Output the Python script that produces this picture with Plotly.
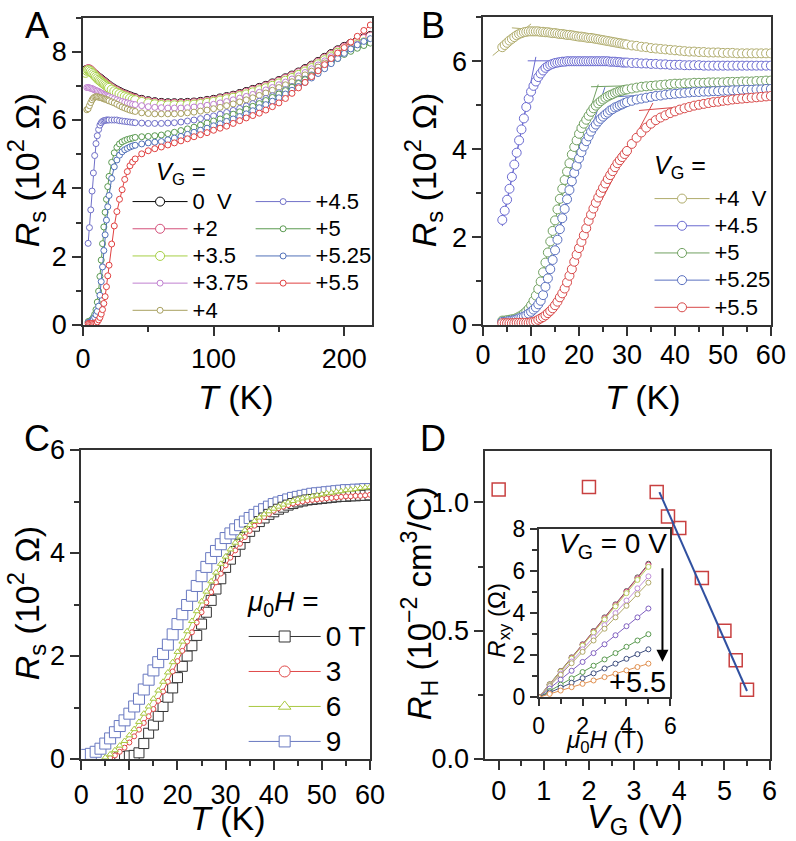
import plotly.graph_objects as go

W, H = 796, 841
# the rendered plot area sits ~8.5 px in from the sides and ~15 px from top/bottom,
# so reference pixel positions are mapped onto paper fractions of that area
ML, MT = 8.5, 15.0
def px(x): return (x - ML) / (W - 2 * ML)
def py(y): return 1 - (y - MT) / (H - 2 * MT)

FONT = "Liberation Sans, Arial, Helvetica, sans-serif"

# ---------------- Panel A : Rs(T), 0-220 K ----------------
T_A = [2, 3, 4, 5, 6, 7, 8, 9, 10, 11, 12, 13, 14, 15, 16, 17, 18, 19, 20,
       22, 24, 26, 28, 30, 32, 34, 36, 38, 40,
       45, 50, 55, 60, 65, 70, 75, 80, 85, 90, 95, 100, 105, 110, 115, 120, 125, 130, 135,
       140, 145, 150, 155, 160, 165, 170, 175, 180, 185, 190, 195, 200, 205, 210, 215, 220]
A_LABELS = ["0&nbsp;&nbsp;V", "+2", "+3.5", "+3.75", "+4", "+4.5", "+5", "+5.25", "+5.5"]
A_COLORS = ["#000000", "#d4507a", "#a6cf45", "#c080d0", "#a8a060", "#7070c8", "#5a9a50", "#5070b8", "#e04040"]
A_SIZES = [9, 9, 9, 6, 6, 6, 6, 6, 6]
R_A_0 = [7.45, 7.46, 7.46, 7.44, 7.42, 7.39, 7.36, 7.33, 7.30, 7.27, 7.24, 7.21, 7.18, 7.15, 7.12, 7.09, 7.06, 7.03, 7.00,
         6.95, 6.90, 6.86, 6.82, 6.78, 6.75, 6.72, 6.69, 6.66, 6.64,
         6.59, 6.55, 6.52, 6.50, 6.49, 6.49, 6.49, 6.50, 6.51, 6.53, 6.56, 6.59, 6.63, 6.67, 6.71, 6.76, 6.82, 6.88, 6.94,
         7.00, 7.07, 7.14, 7.22, 7.30, 7.39, 7.49, 7.59, 7.70, 7.82, 7.93, 8.04, 8.14, 8.23, 8.31, 8.39, 8.46]
R_A_2 = [7.40, 7.46, 7.49, 7.48, 7.45, 7.41, 7.37, 7.33, 7.29, 7.26, 7.22, 7.19, 7.16, 7.13, 7.10, 7.07, 7.04, 7.01, 6.98,
         6.93, 6.88, 6.84, 6.80, 6.76, 6.73, 6.70, 6.67, 6.64, 6.62,
         6.57, 6.53, 6.50, 6.48, 6.47, 6.47, 6.47, 6.48, 6.49, 6.51, 6.54, 6.57, 6.61, 6.65, 6.69, 6.74, 6.80, 6.86, 6.92,
         6.98, 7.05, 7.12, 7.20, 7.28, 7.37, 7.47, 7.57, 7.68, 7.80, 7.91, 8.02, 8.12, 8.21, 8.29, 8.37, 8.44]
R_A_35 = [7.38, 7.44, 7.46, 7.45, 7.42, 7.38, 7.34, 7.30, 7.26, 7.22, 7.18, 7.15, 7.12, 7.09, 7.06, 7.03, 7.00, 6.97, 6.94,
          6.89, 6.84, 6.80, 6.76, 6.72, 6.69, 6.66, 6.63, 6.60, 6.58,
          6.53, 6.49, 6.46, 6.44, 6.43, 6.43, 6.43, 6.44, 6.45, 6.47, 6.50, 6.53, 6.57, 6.61, 6.65, 6.70, 6.75, 6.81, 6.87,
          6.93, 7.00, 7.07, 7.15, 7.23, 7.32, 7.42, 7.52, 7.63, 7.75, 7.86, 7.97, 8.06, 8.14, 8.21, 8.27, 8.32]
R_A_375 = [None, 6.95, 6.95, 6.94, 6.93, 6.92, 6.90, 6.88, 6.86, 6.85, 6.83, 6.81, 6.79, 6.77, 6.75, 6.73, 6.71, 6.69, 6.68,
           6.65, 6.62, 6.59, 6.56, 6.54, 6.52, 6.50, 6.48, 6.46, 6.45,
           6.42, 6.39, 6.37, 6.36, 6.35, 6.35, 6.35, 6.36, 6.38, 6.40, 6.43, 6.46, 6.50, 6.54, 6.59, 6.64, 6.69, 6.75, 6.81,
           6.88, 6.95, 7.03, 7.11, 7.20, 7.29, 7.39, 7.50, 7.61, 7.73, 7.85, 7.96, 8.06, 8.14, 8.22, 8.29, 8.35]
R_A_4 = [None, 6.30, 6.33, 6.42, 6.51, 6.59, 6.64, 6.67, 6.68, 6.68, 6.67, 6.66, 6.65, 6.64, 6.62, 6.61, 6.60, 6.58, 6.56,
         6.53, 6.50, 6.46, 6.42, 6.38, 6.35, 6.32, 6.29, 6.27, 6.25,
         6.21, 6.19, 6.18, 6.18, 6.18, 6.18, 6.19, 6.21, 6.23, 6.26, 6.29, 6.33, 6.37, 6.42, 6.47, 6.53, 6.59, 6.65, 6.72,
         6.79, 6.87, 6.95, 7.03, 7.12, 7.22, 7.32, 7.43, 7.55, 7.67, 7.80, 7.92, 8.02, 8.10, 8.18, 8.24, 8.30]
R_A_45 = [None, None, 2.39, 2.85, 3.37, 3.92, 4.45, 4.96, 5.31, 5.54, 5.72, 5.85, 5.92, 5.96, 5.98, 5.99, 6.00, 6.00, 6.00,
          6.00, 6.00, 6.00, 5.98, 5.97, 5.96, 5.95, 5.94, 5.93, 5.92,
          5.91, 5.90, 5.90, 5.90, 5.91, 5.92, 5.94, 5.97, 6.00, 6.04, 6.08, 6.12, 6.17, 6.22, 6.28, 6.34, 6.41, 6.48, 6.55,
          6.63, 6.71, 6.80, 6.89, 6.98, 7.09, 7.20, 7.32, 7.44, 7.57, 7.70, 7.82, 7.93, 8.03, 8.12, 8.20, 8.28]
R_A_5 = [None, None, 0.10, 0.11, 0.13, 0.16, 0.22, 0.31, 0.45, 0.67, 0.99, 1.42, 1.90, 2.38, 2.87, 3.30, 3.68, 4.05, 4.35,
         4.76, 5.04, 5.20, 5.30, 5.36, 5.40, 5.43, 5.45, 5.47, 5.49,
         5.51, 5.52, 5.54, 5.56, 5.60, 5.64, 5.69, 5.74, 5.79, 5.85, 5.91, 5.97, 6.03, 6.10, 6.17, 6.24, 6.32, 6.40, 6.48,
         6.57, 6.66, 6.76, 6.86, 6.96, 7.07, 7.18, 7.30, 7.42, 7.55, 7.68, 7.80, 7.92, 8.01, 8.10, 8.18, 8.25]
R_A_525 = [None, None, 0.07, 0.08, 0.10, 0.13, 0.17, 0.22, 0.30, 0.40, 0.55, 0.87, 1.27, 1.70, 2.18, 2.64, 3.07, 3.46, 3.79,
           4.29, 4.63, 4.83, 4.97, 5.07, 5.13, 5.17, 5.21, 5.24, 5.26,
           5.30, 5.33, 5.35, 5.37, 5.42, 5.47, 5.52, 5.58, 5.64, 5.70, 5.76, 5.83, 5.89, 5.96, 6.03, 6.10, 6.18, 6.27, 6.36,
           6.45, 6.55, 6.65, 6.76, 6.87, 6.98, 7.10, 7.23, 7.36, 7.50, 7.65, 7.80, 7.95, 8.08, 8.20, 8.30, 8.38]
R_A_55 = [None, None, 0.04, 0.04, 0.04, 0.05, 0.05, 0.05, 0.06, 0.09, 0.15, 0.22, 0.32, 0.45, 0.63, 0.83, 1.12, 1.44, 1.75,
          2.37, 2.90, 3.32, 3.68, 3.96, 4.26, 4.49, 4.66, 4.77, 4.86,
          5.01, 5.10, 5.16, 5.21, 5.27, 5.33, 5.39, 5.45, 5.51, 5.57, 5.63, 5.70, 5.76, 5.82, 5.90, 5.98, 6.06, 6.13, 6.20,
          6.29, 6.39, 6.50, 6.63, 6.78, 6.94, 7.10, 7.27, 7.44, 7.62, 7.80, 7.96, 8.12, 8.28, 8.45, 8.62, 8.78]
A_SERIES = [R_A_0, R_A_2, R_A_35, R_A_375, R_A_4, R_A_45, R_A_5, R_A_525, R_A_55]

# ---------------- Panel B : Rs(T), 0-60 K ----------------
T_B = [4.0, 4.5, 5.0, 5.5, 6.0, 6.5, 7.0, 7.5, 8.0, 8.5,
       9.0, 9.5, 10.0, 10.5, 11.0, 11.5, 12.0, 12.5, 13.0, 13.5,
       14.0, 14.5, 15.0, 15.5, 16.0, 16.5, 17.0, 17.5, 18.0, 18.5,
       19.0, 19.5, 20.0, 20.5, 21.0, 21.5, 22.0, 22.5, 23.0, 23.5,
       24.0, 24.5, 25.0, 25.5, 26.0, 26.5, 27.0, 27.5, 28.0, 28.5,
       29.0, 29.5, 30.0,
       31, 32, 33, 34, 35, 36, 37, 38, 39, 40,
       41, 42, 43, 44, 45, 46, 47, 48, 49, 50,
       51, 52, 53, 54, 55, 56, 57, 58, 59, 60]
B_LABELS = ["+4&nbsp;&nbsp;V", "+4.5", "+5", "+5.25", "+5.5"]
B_COLORS = ["#b0ac6c", "#6a6ad0", "#70a060", "#5a70c0", "#d84848"]
R_B_4 = [6.32, 6.37, 6.42, 6.47, 6.51, 6.55, 6.59, 6.62, 6.64, 6.66,
         6.67, 6.68, 6.68, 6.68, 6.68, 6.68, 6.67, 6.67, 6.66, 6.66,
         6.65, 6.64, 6.64, 6.63, 6.62, 6.62, 6.61, 6.60, 6.60, 6.59,
         6.58, 6.57, 6.56, 6.56, 6.55, 6.54, 6.53, 6.53, 6.52, 6.51,
         6.50, 6.49, 6.48, 6.47, 6.46, 6.45, 6.44, 6.43, 6.42, 6.41,
         6.40, 6.39, 6.38,
         6.36, 6.35, 6.33, 6.32, 6.30, 6.29, 6.28, 6.27, 6.26, 6.25,
         6.24, 6.23, 6.22, 6.22, 6.21, 6.21, 6.20, 6.20, 6.20, 6.19,
         6.19, 6.19, 6.18, 6.18, 6.18, 6.18, 6.18, 6.18, 6.18, 6.18]
R_B_45 = [2.39, 2.60, 2.85, 3.10, 3.37, 3.65, 3.92, 4.20, 4.45, 4.70,
          4.96, 5.15, 5.31, 5.44, 5.54, 5.64, 5.72, 5.79, 5.85, 5.89,
          5.92, 5.94, 5.96, 5.97, 5.98, 5.99, 5.99, 6.00, 6.00, 6.00,
          6.00, 6.00, 6.00, 6.00, 6.00, 6.00, 6.00, 6.00, 6.00, 6.00,
          6.00, 6.00, 6.00, 6.00, 6.00, 5.99, 5.99, 5.99, 5.98, 5.98,
          5.97, 5.97, 5.97,
          5.96, 5.96, 5.95, 5.95, 5.94, 5.94, 5.93, 5.93, 5.92, 5.92,
          5.92, 5.91, 5.91, 5.91, 5.91, 5.90, 5.90, 5.90, 5.90, 5.90,
          5.90, 5.90, 5.90, 5.90, 5.90, 5.90, 5.90, 5.90, 5.90, 5.90]
R_B_5 = [0.10, 0.10, 0.11, 0.12, 0.13, 0.14, 0.16, 0.19, 0.22, 0.26,
         0.31, 0.37, 0.45, 0.55, 0.67, 0.82, 0.99, 1.20, 1.42, 1.65,
         1.90, 2.14, 2.38, 2.63, 2.87, 3.10, 3.30, 3.49, 3.68, 3.88,
         4.05, 4.20, 4.35, 4.48, 4.58, 4.67, 4.76, 4.85, 4.93, 4.99,
         5.04, 5.09, 5.13, 5.17, 5.20, 5.23, 5.25, 5.28, 5.30, 5.32,
         5.33, 5.35, 5.36,
         5.38, 5.40, 5.42, 5.43, 5.44, 5.45, 5.46, 5.47, 5.48, 5.49,
         5.49, 5.50, 5.50, 5.51, 5.51, 5.51, 5.52, 5.52, 5.52, 5.52,
         5.53, 5.53, 5.53, 5.54, 5.54, 5.54, 5.55, 5.55, 5.56, 5.56]
R_B_525 = [0.07, 0.07, 0.08, 0.09, 0.10, 0.11, 0.13, 0.15, 0.17, 0.19,
           0.22, 0.26, 0.30, 0.35, 0.40, 0.47, 0.55, 0.68, 0.87, 1.06,
           1.27, 1.48, 1.70, 1.94, 2.18, 2.43, 2.64, 2.86, 3.07, 3.27,
           3.46, 3.62, 3.79, 3.93, 4.06, 4.18, 4.29, 4.40, 4.49, 4.56,
           4.63, 4.69, 4.74, 4.79, 4.83, 4.88, 4.91, 4.95, 4.97, 5.00,
           5.02, 5.05, 5.07,
           5.10, 5.13, 5.15, 5.17, 5.19, 5.21, 5.22, 5.24, 5.25, 5.26,
           5.27, 5.28, 5.29, 5.30, 5.30, 5.31, 5.31, 5.32, 5.32, 5.33,
           5.33, 5.34, 5.34, 5.35, 5.35, 5.35, 5.36, 5.36, 5.37, 5.37]
R_B_55 = [0.04, 0.04, 0.04, 0.04, 0.04, 0.04, 0.05, 0.05, 0.05, 0.05,
          0.05, 0.05, 0.06, 0.07, 0.09, 0.12, 0.15, 0.18, 0.22, 0.27,
          0.32, 0.38, 0.45, 0.53, 0.63, 0.72, 0.83, 0.97, 1.12, 1.27,
          1.44, 1.60, 1.75, 1.89, 2.04, 2.20, 2.37, 2.51, 2.65, 2.78,
          2.90, 3.01, 3.12, 3.22, 3.32, 3.41, 3.50, 3.59, 3.68, 3.75,
          3.82, 3.89, 3.96,
          4.12, 4.26, 4.38, 4.49, 4.58, 4.66, 4.72, 4.77, 4.82, 4.86,
          4.90, 4.93, 4.96, 4.99, 5.01, 5.03, 5.05, 5.07, 5.08, 5.10,
          5.11, 5.13, 5.14, 5.15, 5.16, 5.17, 5.18, 5.19, 5.20, 5.21]
B_SERIES = [R_B_4, R_B_45, R_B_5, R_B_525, R_B_55]
# tangent construction lines (T pair, R pair), two per curve
FIT_B_T = [[[2.0, 10.0], [6.0, 15.0]],
           [[4.0, 11.0], [9.3, 21.0]],
           [[15.5, 24.0], [22.5, 40.0]],
           [[16.0, 25.4], [24.0, 40.0]],
           [[24.5, 35.4], [32.5, 40.0]]]
FIT_B_R = [[[6.13, 6.85], [6.76, 6.68]],
           [[2.25, 6.10], [6.01, 6.01]],
           [[2.60, 5.47], [5.42, 5.47]],
           [[2.26, 5.41], [5.17, 5.27]],
           [[2.80, 5.05], [4.88, 4.95]]]

# ---------------- Panel C : Rs(T) in field ----------------
T_C = list(range(1, 61))
C_LABELS = ["0 T", "3", "6", "9"]
C_COLORS = ["#333333", "#e04848", "#a8c840", "#6878c0"]
C_SYMBOLS = ["square", "circle", "triangle-up", "square"]
R_C_0 = [None, None, None, None, None, None, None, 0.04, 0.05, 0.06,
         0.07, 0.12, 0.30, 0.50, 0.66, 0.83, 1.02, 1.20, 1.38, 1.58,
         1.80, 2.00, 2.20, 2.40, 2.62, 2.85, 3.08, 3.30, 3.50, 3.72,
         3.88, 4.03, 4.17, 4.30, 4.42, 4.52, 4.61, 4.68, 4.75, 4.80,
         4.85, 4.89, 4.93, 4.96, 4.99, 5.01, 5.03, 5.04, 5.05, 5.06,
         5.07, 5.08, 5.09, 5.10, 5.10, 5.11, 5.11, 5.12, 5.12, 5.13]
R_C_3 = [None, None, None, None, None, 0.02, 0.07, 0.14, 0.22, 0.32,
         0.44, 0.57, 0.70, 0.83, 0.97, 1.13, 1.31, 1.50, 1.70, 1.90,
         2.10, 2.28, 2.46, 2.65, 2.85, 3.04, 3.24, 3.43, 3.60, 3.76,
         3.91, 4.05, 4.18, 4.31, 4.43, 4.53, 4.62, 4.70, 4.76, 4.82,
         4.87, 4.90, 4.93, 4.96, 4.98, 5.00, 5.02, 5.03, 5.04, 5.05,
         5.06, 5.07, 5.08, 5.09, 5.10, 5.10, 5.11, 5.11, 5.12, 5.13]
R_C_6 = [None, None, None, None, 0.03, 0.09, 0.17, 0.26, 0.35, 0.46,
         0.58, 0.72, 0.88, 1.02, 1.17, 1.33, 1.50, 1.68, 1.88, 2.08,
         2.28, 2.48, 2.68, 2.87, 3.06, 3.25, 3.45, 3.62, 3.79, 3.93,
         4.07, 4.20, 4.32, 4.44, 4.54, 4.62, 4.69, 4.75, 4.81, 4.86,
         4.90, 4.94, 4.98, 5.01, 5.04, 5.06, 5.08, 5.10, 5.12, 5.14,
         5.16, 5.17, 5.19, 5.20, 5.22, 5.23, 5.24, 5.26, 5.27, 5.28]
R_C_9 = [0.08, 0.10, 0.14, 0.20, 0.30, 0.40, 0.52, 0.64, 0.75, 0.88,
         1.02, 1.17, 1.35, 1.54, 1.72, 1.88, 2.04, 2.22, 2.42, 2.62,
         2.81, 2.99, 3.17, 3.36, 3.55, 3.73, 3.90, 4.04, 4.17, 4.29,
         4.38, 4.46, 4.54, 4.61, 4.68, 4.74, 4.80, 4.85, 4.90, 4.95,
         4.98, 5.01, 5.04, 5.07, 5.09, 5.11, 5.13, 5.15, 5.16, 5.17,
         5.18, 5.19, 5.20, 5.21, 5.22, 5.22, 5.23, 5.23, 5.24, 5.24]

# ---------------- Panel D : Hall coefficient ----------------
VG_D = [0, 2, 3.5, 3.75, 4, 4.5, 5, 5.25, 5.5]
RH_D = [1.05, 1.06, 1.04, 0.945, 0.90, 0.705, 0.50, 0.385, 0.27]
FIT_D_V = [3.56, 5.50]
FIT_D_R = [1.04, 0.265]
# inset: Rxy(H)
H_IN = [0, 0.5, 1.0, 1.5, 2.0, 2.5, 3.0, 3.5, 4.0, 4.5, 5.0]
IN_COLORS = ["#555555", "#d4507a", "#b8d060", "#c090d8", "#b0a868", "#8060c0", "#5a9a50", "#405080", "#e09050"]
RXY = [[0, 0.62, 1.25, 1.90, 2.52, 3.15, 3.80, 4.42, 5.05, 5.70, 6.35],
       [0, 0.60, 1.23, 1.87, 2.50, 3.12, 3.76, 4.38, 5.02, 5.65, 6.30],
       [0, 0.60, 1.22, 1.84, 2.46, 3.08, 3.70, 4.32, 4.95, 5.58, 6.20],
       [0, 0.56, 1.13, 1.70, 2.28, 2.85, 3.43, 4.00, 4.60, 5.18, 5.75],
       [0, 0.53, 1.07, 1.62, 2.16, 2.70, 3.26, 3.80, 4.35, 4.90, 5.45],
       [0, 0.42, 0.84, 1.26, 1.68, 2.10, 2.52, 2.95, 3.38, 3.80, 4.22],
       [0, 0.30, 0.60, 0.90, 1.20, 1.50, 1.80, 2.10, 2.40, 2.70, 3.00],
       [0, 0.23, 0.46, 0.69, 0.91, 1.14, 1.37, 1.60, 1.83, 2.05, 2.28],
       [0, 0.16, 0.32, 0.48, 0.64, 0.80, 0.96, 1.12, 1.28, 1.44, 1.60]]

fig = go.Figure()

def big(s, fs):
    return '<span style="font-size:%dpx">%s</span>' % (fs, s)

def series(x, y, name, color, size, xa, ya, legend="legend", symbol="circle", showlegend=True, lw=1.0, mlw=1.0):
    fig.add_trace(go.Scatter(
        x=x, y=y, mode="lines+markers", name=name, xaxis=xa, yaxis=ya,
        legend=legend, showlegend=showlegend,
        line=dict(color=color, width=lw),
        marker=dict(symbol=symbol, size=size, color="white", line=dict(color=color, width=mlw)),
        hoverinfo="skip"))

# Panel A
for i, (lab, col, sz, ys) in enumerate(zip(A_LABELS, A_COLORS, A_SIZES, A_SERIES)):
    series(T_A, ys, big(lab, 22), col, sz, "x", "y", legend="legend" if i < 5 else "legend2")

# Panel B
for col, fts, frs in zip(B_COLORS, FIT_B_T, FIT_B_R):
    for ft, fr in zip(fts, frs):
        fig.add_trace(go.Scatter(x=ft, y=fr, mode="lines", xaxis="x2", yaxis="y2", showlegend=False,
                                 line=dict(color=col, width=1), hoverinfo="skip"))
for lab, col, ys in zip(B_LABELS, B_COLORS, B_SERIES):
    series(T_B, ys, big(lab, 22), col, 9, "x2", "y2", legend="legend3")

# Panel C (draw order: 9 T, 0 T, 3 T, 6 T); legend keys are separate empty traces
series(T_C, R_C_9, C_LABELS[3], C_COLORS[3], 11, "x3", "y3", symbol="square", showlegend=False)
series(T_C, R_C_0, C_LABELS[0], C_COLORS[0], 10, "x3", "y3", symbol="square", showlegend=False)
series(T_C, R_C_3, C_LABELS[1], C_COLORS[1], 5, "x3", "y3", symbol="circle", showlegend=False)
series(T_C, R_C_6, C_LABELS[2], C_COLORS[2], 6, "x3", "y3", symbol="triangle-up", showlegend=False)
for lab, col, sym in zip(C_LABELS, C_COLORS, C_SYMBOLS):
    fig.add_trace(go.Scatter(x=[None], y=[None], mode="lines+markers", name=big(lab, 28), xaxis="x3", yaxis="y3",
                             legend="legend4", line=dict(color=col, width=1),
                             marker=dict(symbol=sym, size=11, color="white", line=dict(color=col, width=1))))

# Panel D
fig.add_trace(go.Scatter(x=VG_D, y=RH_D, mode="markers", xaxis="x4", yaxis="y4", showlegend=False,
                         marker=dict(symbol="square-open", size=13, color="#c84040", line=dict(width=1.5)),
                         hoverinfo="skip"))
fig.add_trace(go.Scatter(x=FIT_D_V, y=FIT_D_R, mode="lines", xaxis="x4", yaxis="y4", showlegend=False,
                         line=dict(color="#3050a0", width=2), hoverinfo="skip"))
for col, ys in zip(IN_COLORS, RXY):
    series(H_IN, ys, "", col, 5, "x5", "y5", showlegend=False, lw=1, mlw=1)

# ---------------- axes ----------------
def axis(domain, rng, anchor, dtick, mdtick, fs=27, **kw):
    d = dict(domain=domain, range=rng, anchor=anchor, dtick=dtick, tick0=0,
             showline=True, linecolor="#333", linewidth=1.5, mirror=True,
             ticks="outside", ticklen=9, tickwidth=1.5, tickcolor="#333",
             showgrid=False, zeroline=False, fixedrange=True,
             tickfont=dict(family=FONT, size=fs, color="black"),
             minor=dict(dtick=mdtick, tick0=0, ticks="outside", ticklen=5, tickwidth=1.5, tickcolor="#333", showgrid=False))
    d.update(kw)
    return d

layout_axes = dict(
    xaxis=axis([px(84), px(375)], [0, 221], "y", 100, 50, ticklabelstandoff=0),
    yaxis=axis([py(325), py(17.5)], [0, 9], "x", 2, 1),
    xaxis2=axis([px(487.3), px(777.3)], [0, 60], "y2", 10, 5, ticklabelstandoff=-4),
    yaxis2=axis([py(325), py(17.3)], [0, 7], "x2", 2, 1),
    xaxis3=axis([px(82.3), px(373.3)], [0, 60], "y3", 10, 5, ticklabelstandoff=2),
    yaxis3=axis([py(759), py(450)], [0, 6], "x3", 2, 1),
    xaxis4=axis([px(489.3), px(776)], [-0.3, 6], "y4", 1, 0.5, ticklabelstandoff=-2),
    yaxis4=axis([py(759), py(451)], [0, 1.2], "x4", 0.5, 0.25, tickformat=".1f"),
    xaxis5=axis([px(543.3), px(676)], [0, 6], "y5", 2, 1, fs=23, ticklen=7),
    yaxis5=axis([py(697.3), py(529)], [0, 8], "x5", 2, 1, fs=23, ticklen=7),
)

def leg(x, y, fs, iw):
    return dict(x=px(x), y=py(y), xanchor="left", yanchor="top", bgcolor="rgba(0,0,0,0)",
                font=dict(family=FONT, size=fs, color="black"), itemsizing="trace",
                itemwidth=iw, tracegroupgap=0, borderwidth=0, itemclick=False, itemdoubleclick=False)

ann = []
def text(x, y, s, fs, angle=0, xanchor="center", xref="paper", yref="paper", conv=True):
    ann.append(dict(x=px(x) if conv else x, y=py(y) if conv else y, xref=xref, yref=yref, text=s,
                    showarrow=False, textangle=angle, xanchor=xanchor, yanchor="middle",
                    font=dict(family=FONT, size=fs, color="black")))

# panel letters
text(38, 25, "A", 36)
text(437, 25, "B", 36)
text(38, 438, "C", 36)
text(437, 438, "D", 36)
# axis titles
RS = "<i>R</i><sub>s</sub> (10<sup>2</sup> Ω)"
TK = "<i>T</i> (K)"
text(27, 170, RS, 34, angle=-90)
text(238, 397, TK, 34)
text(427, 170, RS, 34, angle=-90)
text(648, 397, TK, 34)
text(27, 603, RS, 34, angle=-90)
text(230, 818, TK, 34)
text(423, 603, "<i>R</i><sub>H</sub> (10<sup>−2</sup> cm<sup>3</sup>/C)", 33, angle=-90)
text(640, 818, "<i>V</i><sub>G</sub> (V)", 34)
# legend headers
text(183, 173, "<i>V</i><sub>G</sub> =", 24)
text(686, 167, "<i>V</i><sub>G</sub> =", 25)
text(286, 603, "<i>μ</i><sub>0</sub><i>H</i> =", 28)
# inset texts
text(502, 620, "<i>R</i><sub>xy</sub> (Ω)", 24, angle=-90)
text(610, 741, "<i>μ</i><sub>0</sub><i>H</i> (T)", 24)
text(5.95, 7.2, "<i>V</i><sub>G</sub> = 0 V", 28, xanchor="right", xref="x5", yref="y5", conv=False)
text(5.9, 0.75, "+5.5", 29, xanchor="right", xref="x5", yref="y5", conv=False)
ann.append(dict(x=5.64, y=1.69, ax=5.64, ay=6.2, xref="x5", yref="y5", axref="x5", ayref="y5",
                text="", showarrow=True, arrowhead=2, arrowsize=1.2, arrowwidth=2, arrowcolor="black"))

fig.update_layout(
    width=W, height=H, margin=dict(l=0, r=0, t=0, b=0),
    paper_bgcolor="white", plot_bgcolor="rgba(0,0,0,0)",
    font=dict(family=FONT, color="black"),
    hovermode=False,
    legend=leg(129, 183, 18.6, 55),
    legend2=leg(253, 183, 18.6, 55),
    legend3=leg(655, 180, 18.6, 55),
    legend4=leg(246, 614, 24.6, 72),
    annotations=ann,
    **layout_axes,
)

fig.write_html("out.html", config={"displayModeBar": False},
               post_script="document.body.style.margin='0';document.body.style.overflow='hidden';")
